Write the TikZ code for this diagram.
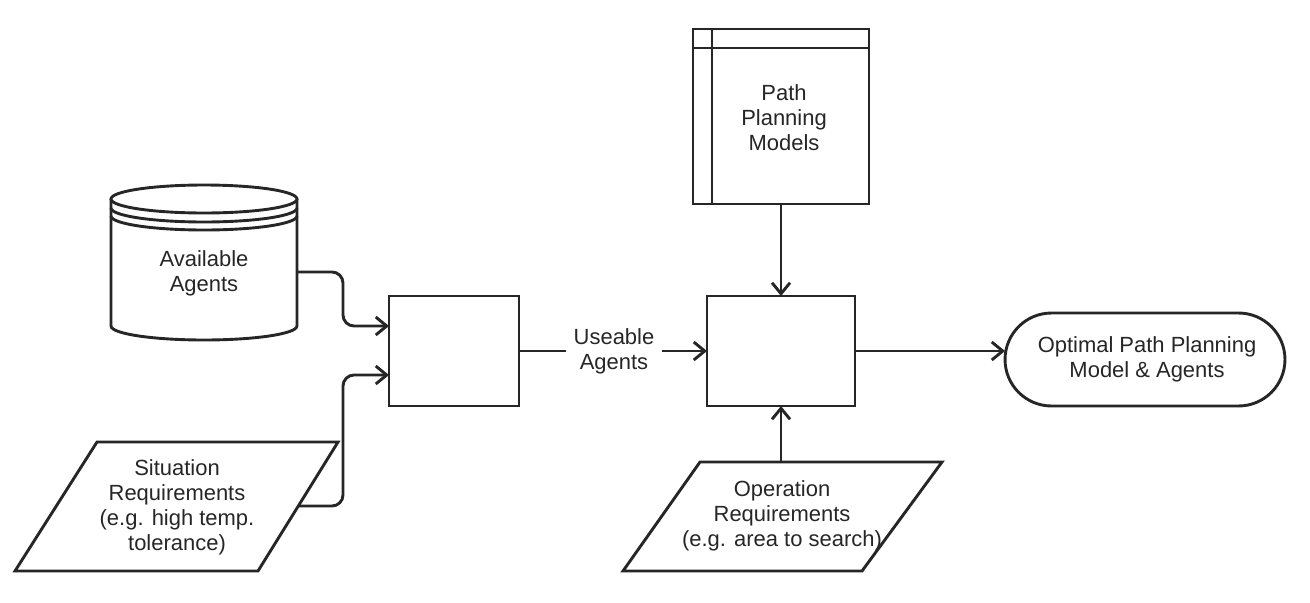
\documentclass[tikz,border=0pt]{standalone}
\usepackage{fontspec}
\setmainfont{Liberation Sans}
\usetikzlibrary{arrows.meta,calc}
\tikzset{
  line/.style={line width=1.65pt, draw=black!85},
  conn/.style={line, -{Straight Barb[length=0.22cm,width=0.36cm,line width=1.65pt]}},
  plain/.style={line},
  txt/.style={align=center, inner sep=0pt, font=\fontsize{12.5pt}{14.2pt}\selectfont, text=black!85},
  boxnode/.style={line, fill=white, rectangle, outer sep=0pt, inner sep=0pt},
}
\begin{document}
\begin{tikzpicture}[x=0.02cm,y=-0.02cm]
\useasboundingbox (0,0) rectangle (1310,602);
% Available Agents cylinder
\filldraw[line, fill=white] (111,199) -- (111,326) arc[start angle=180,end angle=360,x radius=1.86cm,y radius=0.28cm] -- (297,199);
\draw[line, fill=white] (204,199) ellipse[x radius=1.86cm,y radius=0.28cm];
\draw[line] (111,208) arc[start angle=180,end angle=360,x radius=1.86cm,y radius=0.28cm];
\draw[line] (111,216) arc[start angle=180,end angle=360,x radius=1.86cm,y radius=0.28cm];
\node[txt] (agents) at (204,273) {Available\\Agents};
\coordinate (agentsE) at (297,272);
% Situation Requirements parallelogram
\draw[line] (97,442) -- (338,442) -- (258,571) -- (15,571) -- cycle;
\node[txt] (situation) at (177,507) {Situation\\Requirements\\(e.g. high temp.\\tolerance)};
\coordinate (sitE) at (298,506);
% Boxes
\node[boxnode, minimum width=2.6cm, minimum height=2.2cm] (box1) at (454,351) {};
\node[boxnode, minimum width=2.96cm, minimum height=2.2cm] (box2) at (781,351) {};
% Path Planning Models
\node[boxnode, minimum width=3.52cm, minimum height=3.5cm] (ppm) at (781,116.5) {};
\draw[line] ($(ppm.north west)+(0,19)$) -- ($(ppm.north east)+(0,19)$);
\draw[line] ($(ppm.north west)+(19,0)$) -- ($(ppm.south west)+(19,0)$);
\node[txt] (ppmtext) at (784,118) {Path\\Planning\\Models};
% Operation Requirements parallelogram
\draw[line] (700,462) -- (942,462) -- (862,571) -- (623,571) -- cycle;
\node[txt] (operation) at (782,516) {Operation\\Requirements\\(e.g. area to search)};
\coordinate (opN) at (781,462);
% Terminal
\node[boxnode, rounded corners=0.93cm, minimum width=5.6cm, minimum height=1.86cm] (result) at (1145,359.5) {};
\node[txt] (resulttext) at (1147,359.5) {Optimal Path Planning\\Model \& Agents};
% Useable Agents label
\node[txt, inner xsep=0.15cm] (ua) at (614,351) {Useable\\Agents};
% Connectors
\draw[conn, rounded corners=0.22cm] (agentsE) -- ++(46,0) |- ($(box1.west)+(0,-25)$);
\draw[conn, rounded corners=0.22cm] (sitE) -- ++(45,0) |- ($(box1.west)+(0,24)$);
\draw[plain] (box1.east) -- (ua.west);
\draw[conn] (ua.east) -- (box2.west);
\draw[conn] (ppm.south) -- (box2.north);
\draw[conn] (opN) -- (box2.south);
\draw[conn] (box2.east) -- (box2.east -| result.west);
\end{tikzpicture}
\end{document}
